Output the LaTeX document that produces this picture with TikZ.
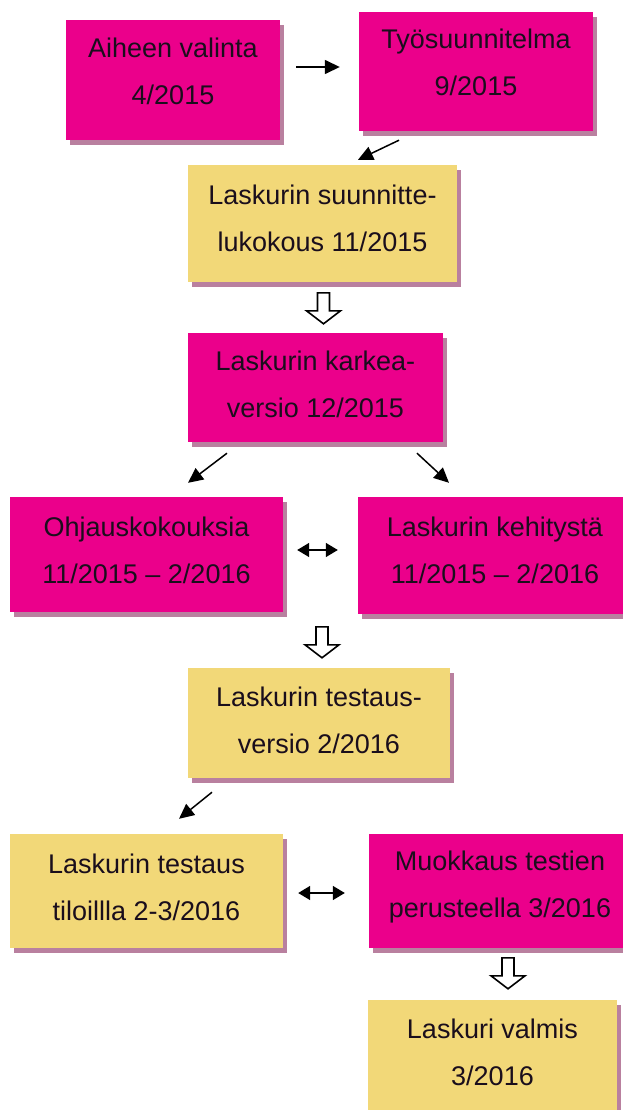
\documentclass[tikz,border=0pt]{standalone}
\usepackage{fontspec}
\setmainfont{Liberation Sans}
\usetikzlibrary{shadows,calc,arrows.meta}
\definecolor{pinkc}{HTML}{EB008B}
\definecolor{yellowc}{HTML}{F2D878}
\definecolor{shadowc}{HTML}{B9809F}
\definecolor{textc}{HTML}{1A0E1C}
\tikzset{
  box/.style={rectangle, inner sep=0pt,
    drop shadow={shadow xshift=4pt, shadow yshift=-5pt, fill=shadowc, opacity=1}},
  pinkbox/.style={box, fill=pinkc},
  yellowbox/.style={box, fill=yellowc},
  lbl/.style={inner sep=0pt, align=center, text=textc, font=\fontsize{27}{47}\selectfont},
  arr/.style={line width=1.5pt, -{Triangle[length=15pt,width=14pt]}},
  darr/.style={line width=1.5pt, {Triangle[length=12pt,width=14pt]}-{Triangle[length=12pt,width=14pt]}},
  hollow/.pic={\draw[line width=1.6pt, fill=white, line join=miter]
     (-6,0) -- (6,0) -- (6,-18) -- (17,-18) -- (0,-31) -- (-17,-18) -- (-6,-18) -- cycle;}
}
\begin{document}
\begin{tikzpicture}[x=1pt,y=1pt]
\useasboundingbox (0,0) rectangle (622,-1110);
\node[pinkbox, minimum width=214pt, minimum height=120pt] (b1) at (173,-80) {};
\node[pinkbox, minimum width=234pt, minimum height=119pt] (b2) at (476,-71.5) {};
\node[yellowbox, minimum width=269pt, minimum height=117pt] (b3) at (322.5,-223.5) {};
\node[pinkbox, minimum width=255pt, minimum height=109pt] (b4) at (315.5,-387.5) {};
\node[pinkbox, minimum width=273pt, minimum height=115pt] (b5) at (146.5,-554.5) {};
\node[pinkbox, minimum width=274pt, minimum height=117pt] (b6) at (495,-555.5) {};
\node[yellowbox, minimum width=262pt, minimum height=110pt] (b7) at (319,-723) {};
\node[yellowbox, minimum width=273pt, minimum height=114pt] (b8) at (146.5,-891) {};
\node[pinkbox, minimum width=262pt, minimum height=114pt] (b9) at (500,-891) {};
\node[yellowbox, minimum width=249pt, minimum height=124pt] (b10) at (492.5,-1062) {};

\node[lbl] (t1) at ($(b1.center)+(0,9)$) {Aiheen valinta\\4/2015};
\node[lbl] (t2) at ($(b2.center)+(0,9)$) {Työsuunnitelma\\9/2015};
\node[lbl] (t3) at ($(b3.center)+(0,5)$) {Laskurin suunnitte-\\lukokous 11/2015};
\node[lbl] (t4) at ($(b4.center)+(0,3)$) {Laskurin karkea-\\versio 12/2015};
\node[lbl] (t5) at ($(b5.center)+(0,4)$) {Ohjauskokouksia\\11/2015 – 2/2016};
\node[lbl] (t6) at ($(b6.center)+(0,5)$) {Laskurin kehitystä\\11/2015 – 2/2016};
\node[lbl] (t7) at ($(b7.center)+(0,3)$) {Laskurin testaus-\\versio 2/2016};
\node[lbl] (t8) at ($(b8.center)+(0,4)$) {Laskurin testaus\\tiloillla 2-3/2016};
\node[lbl] (t9) at ($(b9.center)+(0,4)$) {Muokkaus testien\\perusteella 3/2016};
\node[lbl] (t10) at ($(b10.center)+(0,10)$) {Laskuri valmis\\3/2016};

\draw[arr] ($(b1.east)+(16,13)$) -- ($(b2.west)+(-19,4.5)$);
\draw[arr] ($(b2.south)+(-77,-9)$) -- ($(b3.north)+(35.5,5)$);
\pic at ($(b4.north)+(8,40)$) {hollow};
\draw[arr] ($(b4.south)+(-88.5,-11)$) -- ($(b5.north)+(41.5,14)$);
\draw[arr] ($(b4.south)+(101.5,-11)$) -- ($(b6.north)+(-46,14)$);
\draw[darr] ($(b5.east)+(14,4.5)$) -- ($(b6.west)+(-20,5.5)$);
\pic at ($(b7.north)+(3,41)$) {hollow};
\draw[arr] ($(b7.south)+(-107,-14)$) -- ($(b8.north)+(32.5,15)$);
\draw[darr] ($(b8.east)+(15,-2)$) -- ($(b9.west)+(-24,-2)$);
\pic at ($(b10.north)+(15.5,42)$) {hollow};
\end{tikzpicture}
\end{document}
